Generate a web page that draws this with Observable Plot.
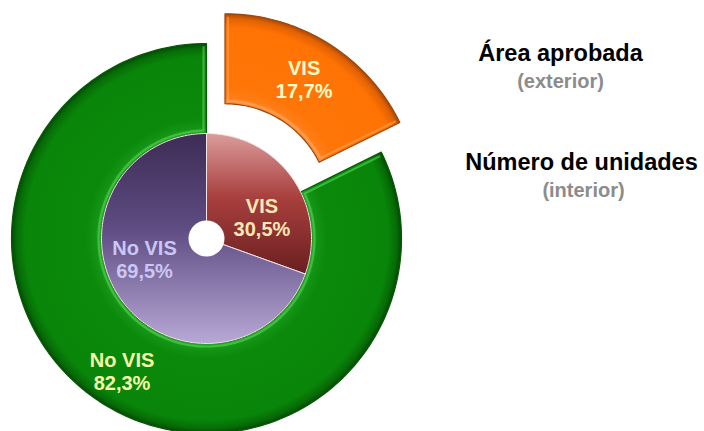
<!DOCTYPE html>
<html>
<head>
<meta charset="utf-8">
<script src="https://cdn.jsdelivr.net/npm/d3@7"></script>
<script src="https://cdn.jsdelivr.net/npm/@observablehq/plot@0.6"></script>
<style>
  html, body { margin: 0; padding: 0; background: #fff; }
  #chart svg { display: block; }
</style>
</head>
<body>
<div id="chart"></div>
<script>
// ---- data ----
const outerCategories = ["VIS", "No VIS"];      // Área aprobada (exterior)
const outerValues = [17.7, 82.3];
const innerCategories = ["VIS", "No VIS"];      // Número de unidades (interior)
const innerValues = [30.5, 69.5];
const legendTitles = ["Área aprobada", "Número de unidades"];
const legendNotes = ["(exterior)", "(interior)"];

// ---- geometry (pixel-like data units) ----
const W = 704, H = 431, CX = 206, CY = 238;
const R_OUT = 195, R_MID = 105, R_HOLE = 18, EXPLODE = 35;
const fmt = v => v.toFixed(1).replace(".", ",") + "%";

function toSlices(cats, vals) {
  const total = d3.sum(vals);
  let acc = 0;
  return cats.map((c, i) => {
    const a0 = acc / total * 360;
    acc += vals[i];
    const a1 = acc / total * 360;
    return {cat: c, value: vals[i], a0, a1, mid: (a0 + a1) / 2};
  });
}
function polar(cx, cy, r, deg) {
  const t = deg * Math.PI / 180;
  return {x: cx + r * Math.sin(t), y: cy + r * Math.cos(t)};
}
function arcPts(cx, cy, r, a0, a1) {
  const n = Math.max(8, Math.ceil(Math.abs(a1 - a0) / 1.5));
  const pts = [];
  for (let i = 0; i <= n; i++) pts.push(polar(cx, cy, r, a0 + (a1 - a0) * i / n));
  return pts;
}
function ring(a0, a1, r0, r1, cx, cy) {
  const pts = arcPts(cx, cy, r1, a0, a1);
  if (r0 > 0) pts.push(...arcPts(cx, cy, r0, a1, a0));
  else pts.push({x: cx, y: cy});
  pts.push(pts[0]);
  return pts;
}
// open bevel highlight: down first cut edge, along inner arc, up second cut edge
function bevel(a0, a1, r0, r1, cx, cy, inset) {
  const da = inset / r0 * 180 / Math.PI;
  const db = inset / r1 * 180 / Math.PI;
  const pts = [polar(cx, cy, r1 - inset * 1.2, a0 + db)];
  pts.push(...arcPts(cx, cy, r0 + inset, a0 + da, a1 - da));
  pts.push(polar(cx, cy, r1 - inset * 1.2, a1 - db));
  return pts;
}

const outer = toSlices(outerCategories, outerValues);
const inner = toSlices(innerCategories, innerValues);
const c0 = {x: 0, y: 0};
const orangeC = polar(0, 0, EXPLODE, outer[0].mid);

const orangePoly = ring(outer[0].a0, outer[0].a1, R_MID, R_OUT, orangeC.x, orangeC.y);
const greenPoly = ring(outer[1].a0, outer[1].a1, R_MID, R_OUT, 0, 0);
const orangeBevel = bevel(outer[0].a0, outer[0].a1, R_MID, R_OUT, orangeC.x, orangeC.y, 3);
const greenBevel = bevel(outer[1].a0, outer[1].a1, R_MID, R_OUT, 0, 0, 3);
const visPoly = ring(inner[0].a0, inner[0].a1, 0, R_MID, 0, 0);
const novisPoly = ring(inner[1].a0, inner[1].a1, 0, R_MID, 0, 0);

const lab = (s, r, c) => { const p = polar(c.x, c.y, r, s.mid); return {...p, text: s.cat + "\n" + fmt(s.value)}; };
const outerLabelVis = lab(outer[0], 150, orangeC);
const outerLabelNo = lab(outer[1], 160, c0);
const innerLabelVis = lab(inner[0], 58, c0);
const innerLabelNo = lab(inner[1], 66, c0);

const poly = (pts, fill, stroke, sw, extra = {}) =>
  Plot.line(pts, {x: "x", y: "y", fill, stroke, strokeWidth: sw, curve: "linear", strokeLinejoin: "round", strokeLinecap: "round", ...extra});

const FONT = "'Liberation Sans', Arial, sans-serif";
const labelFont = {fontFamily: FONT, fontWeight: "bold", fontSize: 20, lineHeight: 1.12, textAnchor: "middle", lineAnchor: "middle"};
const legendFont = (size, fill) => ({text: d => d, frameAnchor: "top-left", textAnchor: "middle", lineAnchor: "middle", fontFamily: FONT, fontWeight: "bold", fontSize: size, fill});

const svg = Plot.plot({
  width: W, height: H,
  margin: 0,
  x: {domain: [-CX, W - CX], axis: null},
  y: {domain: [CY - H, CY], axis: null},
  style: {background: "#fff", overflow: "visible"},
  marks: [
    poly(greenPoly, "url(#gGreen)", "#075807", 1.2),
    poly(greenBevel, "none", "#5fd85f", 2.2, {strokeOpacity: 0.55}),
    poly(orangePoly, "url(#gOrange)", "#9a460e", 1.2),
    poly(orangeBevel, "none", "#ffb574", 2, {strokeOpacity: 0.45}),
    poly(visPoly, "url(#gVis)", "#f2e4e4", 1),
    poly(novisPoly, "url(#gNoVis)", "#f2e4e4", 1),
    Plot.dot([c0], {x: "x", y: "y", r: R_HOLE, fill: "#fff", stroke: "none"}),
    Plot.text([outerLabelVis], {x: "x", y: "y", text: "text", fill: "#fffac8", dy: -2, ...labelFont}),
    Plot.text([outerLabelNo], {x: "x", y: "y", text: "text", fill: "#f8f8a8", dy: -3, ...labelFont}),
    Plot.text([innerLabelVis], {x: "x", y: "y", text: "text", fill: "#f8e8b4", dx: 8, dy: 12, ...labelFont}),
    Plot.text([innerLabelNo], {x: "x", y: "y", text: "text", fill: "#cac6f6", dx: -8, dy: -17, ...labelFont}),
    Plot.text([legendTitles[0]], {...legendFont(23.5, "#000"), dx: 560, dy: 53}),
    Plot.text([legendNotes[0]], {...legendFont(20, "#8c8c8c"), dx: 560, dy: 81}),
    Plot.text([legendTitles[1]], {...legendFont(23.5, "#000"), dx: 581, dy: 162}),
    Plot.text([legendNotes[1]], {...legendFont(20, "#8c8c8c"), dx: 583, dy: 190})
  ]
});

// gradients
const xs = svg.scale("x"), ys = svg.scale("y");
const pcx = xs.apply(0), pcy = ys.apply(0);
const ocx = xs.apply(orangeC.x), ocy = ys.apply(orangeC.y);
const defs = d3.select(svg).insert("defs", ":first-child");
function radial(id, cx, cy, stops) {
  const g = defs.append("radialGradient").attr("id", id).attr("gradientUnits", "userSpaceOnUse")
    .attr("cx", cx).attr("cy", cy).attr("fx", cx).attr("fy", cy).attr("r", R_OUT);
  stops.forEach(([o, c]) => g.append("stop").attr("offset", o).attr("stop-color", c));
}
function linear(id, stops) {
  const g = defs.append("linearGradient").attr("id", id).attr("x1", 0).attr("y1", 0).attr("x2", 0).attr("y2", 1);
  stops.forEach(([o, c]) => g.append("stop").attr("offset", o).attr("stop-color", c));
}
const m = R_MID / R_OUT;
radial("gGreen", pcx, pcy, [[m, "#2aa82a"], [m + 0.03, "#149414"], [m + 0.08, "#0a890a"], [0.93, "#098609"], [0.975, "#066c06"], [1, "#044a04"]]);
radial("gOrange", ocx, ocy, [[m, "#ff9440"], [m + 0.03, "#ff7e18"], [m + 0.08, "#ff7608"], [0.93, "#fe7304"], [0.975, "#e46202"], [1, "#a84806"]]);
linear("gVis", [[0, "#dc9c9c"], [0.45, "#a8403e"], [1, "#6a1e20"]]);
linear("gNoVis", [[0, "#3d2c55"], [0.45, "#5e4c82"], [1, "#b8a8d6"]]);

document.getElementById("chart").appendChild(svg);
</script>
</body>
</html>
